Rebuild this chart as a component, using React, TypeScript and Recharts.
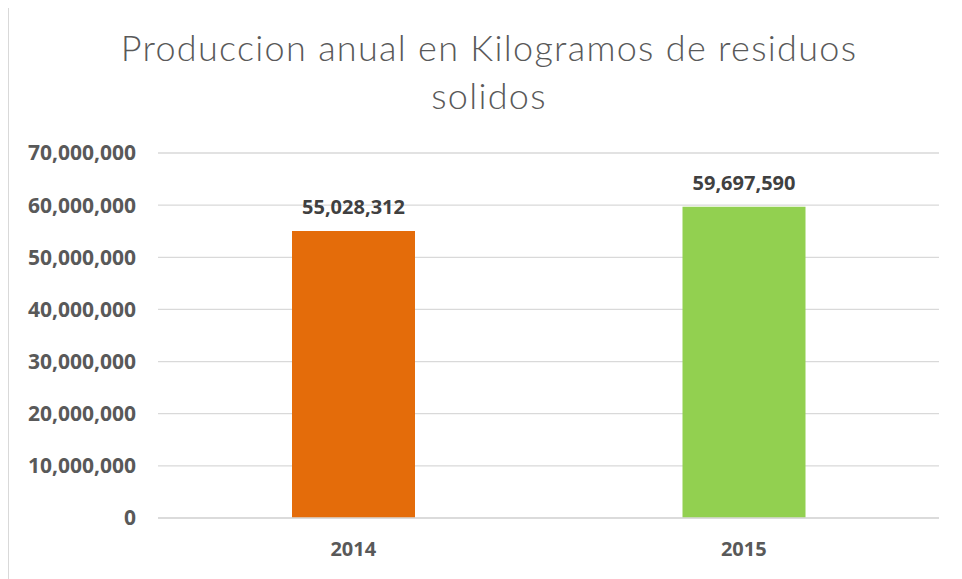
import { Bar, BarChart, CartesianGrid, LabelList, XAxis, YAxis } from "recharts";

const years = ["2014", "2015"];
const kilos = [55028312, 59697590];
const barColors = ["#e46c0a", "#92d050"];
const yTicks = [0, 10000000, 20000000, 30000000, 40000000, 50000000, 60000000, 70000000];

const data = years.map((year, i) => ({ year, kilos: kilos[i], fill: barColors[i] }));

const fmt = (v: number) => v.toLocaleString("en-US");

export default function App() {
  return (
    <div
      style={{
        position: "relative",
        width: 954,
        height: 571,
        background: "#fff",
        fontFamily: "'Open Sans', sans-serif",
      }}
    >
      <div
        style={{
          position: "absolute",
          left: 0,
          top: -8,
          width: 1,
          height: 579,
          background: "#d9d9d9",
        }}
      />
      <div
        style={{
          position: "absolute",
          left: 4,
          top: 15,
          width: 954,
          textAlign: "center",
          fontFamily: "Lato, sans-serif",
          fontWeight: 300,
          fontSize: 36,
          letterSpacing: 1.3,
          lineHeight: "48px",
          color: "#595959",
        }}
      >
        Produccion anual en Kilogramos de residuos
        <br />
        solidos
      </div>
      <BarChart
        width={954}
        height={571}
        data={data}
        margin={{ top: 145, right: 23, bottom: 0, left: 0 }}
        style={{ position: "absolute", left: 0, top: 0 }}
      >
        <CartesianGrid vertical={false} stroke="#d9d9d9" strokeWidth={1.3} />
        <XAxis
          dataKey="year"
          height={61}
          tickLine={false}
          axisLine={{ stroke: "#d9d9d9", strokeWidth: 1.3 }}
          tickMargin={18}
          tick={{ fontSize: 20, fontWeight: 700, fill: "#595959" }}
        />
        <YAxis
          width={150}
          domain={[0, 70000000]}
          ticks={yTicks}
          tickFormatter={fmt}
          axisLine={false}
          tickLine={false}
          tickSize={0}
          tickMargin={22}
          tick={{ fontSize: 21, fontWeight: 700, fill: "#595959" }}
        />
        <Bar dataKey="kilos" barSize={123} isAnimationActive={false}>
          <LabelList
            dataKey="kilos"
            position="top"
            offset={17}
            formatter={(v: number) => fmt(v)}
            style={{ fontSize: 20, fontWeight: 700, fill: "#404040" }}
          />
        </Bar>
      </BarChart>
    </div>
  );
}
